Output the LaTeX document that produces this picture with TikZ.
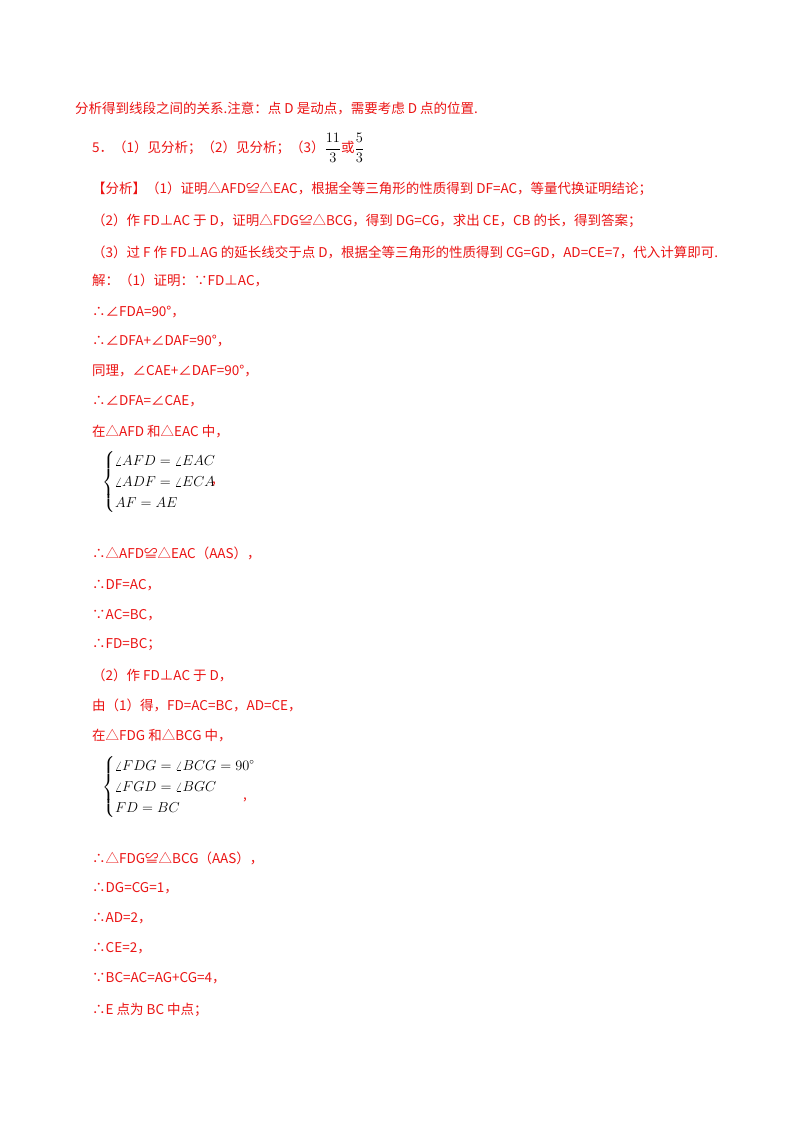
\documentclass[tikz,border=0pt]{standalone}
\usepackage{fontspec}
\usepackage{amsmath}
\setmainfont{Noto Sans CJK SC}
\definecolor{rd}{RGB}{235,20,20}
\begin{document}
\begin{tikzpicture}[x=1pt,y=-1pt,t/.style={anchor=west,inner sep=0pt,text=rd,font=\fontsize{13.5}{15}\selectfont},m/.style={anchor=west,inner sep=0pt,font=\fontsize{13.5}{21}\selectfont}]
\useasboundingbox (0,0) rectangle (800,1132);
\fill[white] (0,0) rectangle (800,1132);
\node[t] (l1) at (75,108) {分析得到线段之间的关系.注意：点 D 是动点，需要考虑 D 点的位置.};
\node[t] (l2) at (92,148) {5．（1）见分析；（2）见分析；（3）{\fontsize{15}{18}\selectfont\textcolor{black}{$\dfrac{11}{3}$}}或{\fontsize{15}{18}\selectfont\textcolor{black}{$\dfrac{5}{3}$}}};
\node[t] (l3) at (92,189) {【分析】（1）证明△AFD≌△EAC，根据全等三角形的性质得到 DF=AC，等量代换证明结论；};
\node[t] (l4) at (92,221) {（2）作 FD⊥AC 于 D，证明△FDG≌△BCG，得到 DG=CG，求出 CE，CB 的长，得到答案；};
\node[t] (l5) at (92,252) {（3）过 F 作 FD⊥AG 的延长线交于点 D，根据全等三角形的性质得到 CG=GD，AD=CE=7，代入计算即可.};
\node[t] (l6) at (92,280) {解：（1）证明：∵FD⊥AC，};
\node[t] (l7) at (92,312) {∴∠FDA=90°，};
\node[t] (l8) at (92,341) {∴∠DFA+∠DAF=90°，};
\node[t] (l9) at (92,371) {同理，∠CAE+∠DAF=90°，};
\node[t] (l10) at (92,401) {∴∠DFA=∠CAE，};
\node[t] (l11) at (92,432) {在△AFD 和△EAC 中，};
\node[m] (s1) at (102,482) {$\left\{\begin{array}{@{}l@{}}\angle AFD=\angle EAC\\\angle ADF=\angle ECA\\AF=AE\end{array}\right.$};
\node[t] (c1) at (212,484) {,};
\node[t] (l12) at (92,553) {∴△AFD≌△EAC（AAS），};
\node[t] (l13) at (92,585) {∴DF=AC，};
\node[t] (l14) at (92,615) {∵AC=BC，};
\node[t] (l15) at (92,645) {∴FD=BC；};
\node[t] (l16) at (92,675) {（2）作 FD⊥AC 于 D，};
\node[t] (l17) at (92,705) {由（1）得，FD=AC=BC，AD=CE，};
\node[t] (l18) at (92,736) {在△FDG 和△BCG 中，};
\node[m] (s2) at (102,787) {$\left\{\begin{array}{@{}l@{}}\angle FDG=\angle BCG=90^{\circ}\\\angle FGD=\angle BGC\\FD=BC\end{array}\right.$};
\node[t] (c2) at (243,800) {,};
\node[t] (l19) at (92,858) {∴△FDG≌△BCG（AAS），};
\node[t] (l20) at (92,888) {∴DG=CG=1，};
\node[t] (l21) at (92,918) {∴AD=2，};
\node[t] (l22) at (92,948) {∴CE=2，};
\node[t] (l23) at (92,978) {∵BC=AC=AG+CG=4，};
\node[t] (l24) at (92,1010) {∴E 点为 BC 中点；};
\end{tikzpicture}
\end{document}
